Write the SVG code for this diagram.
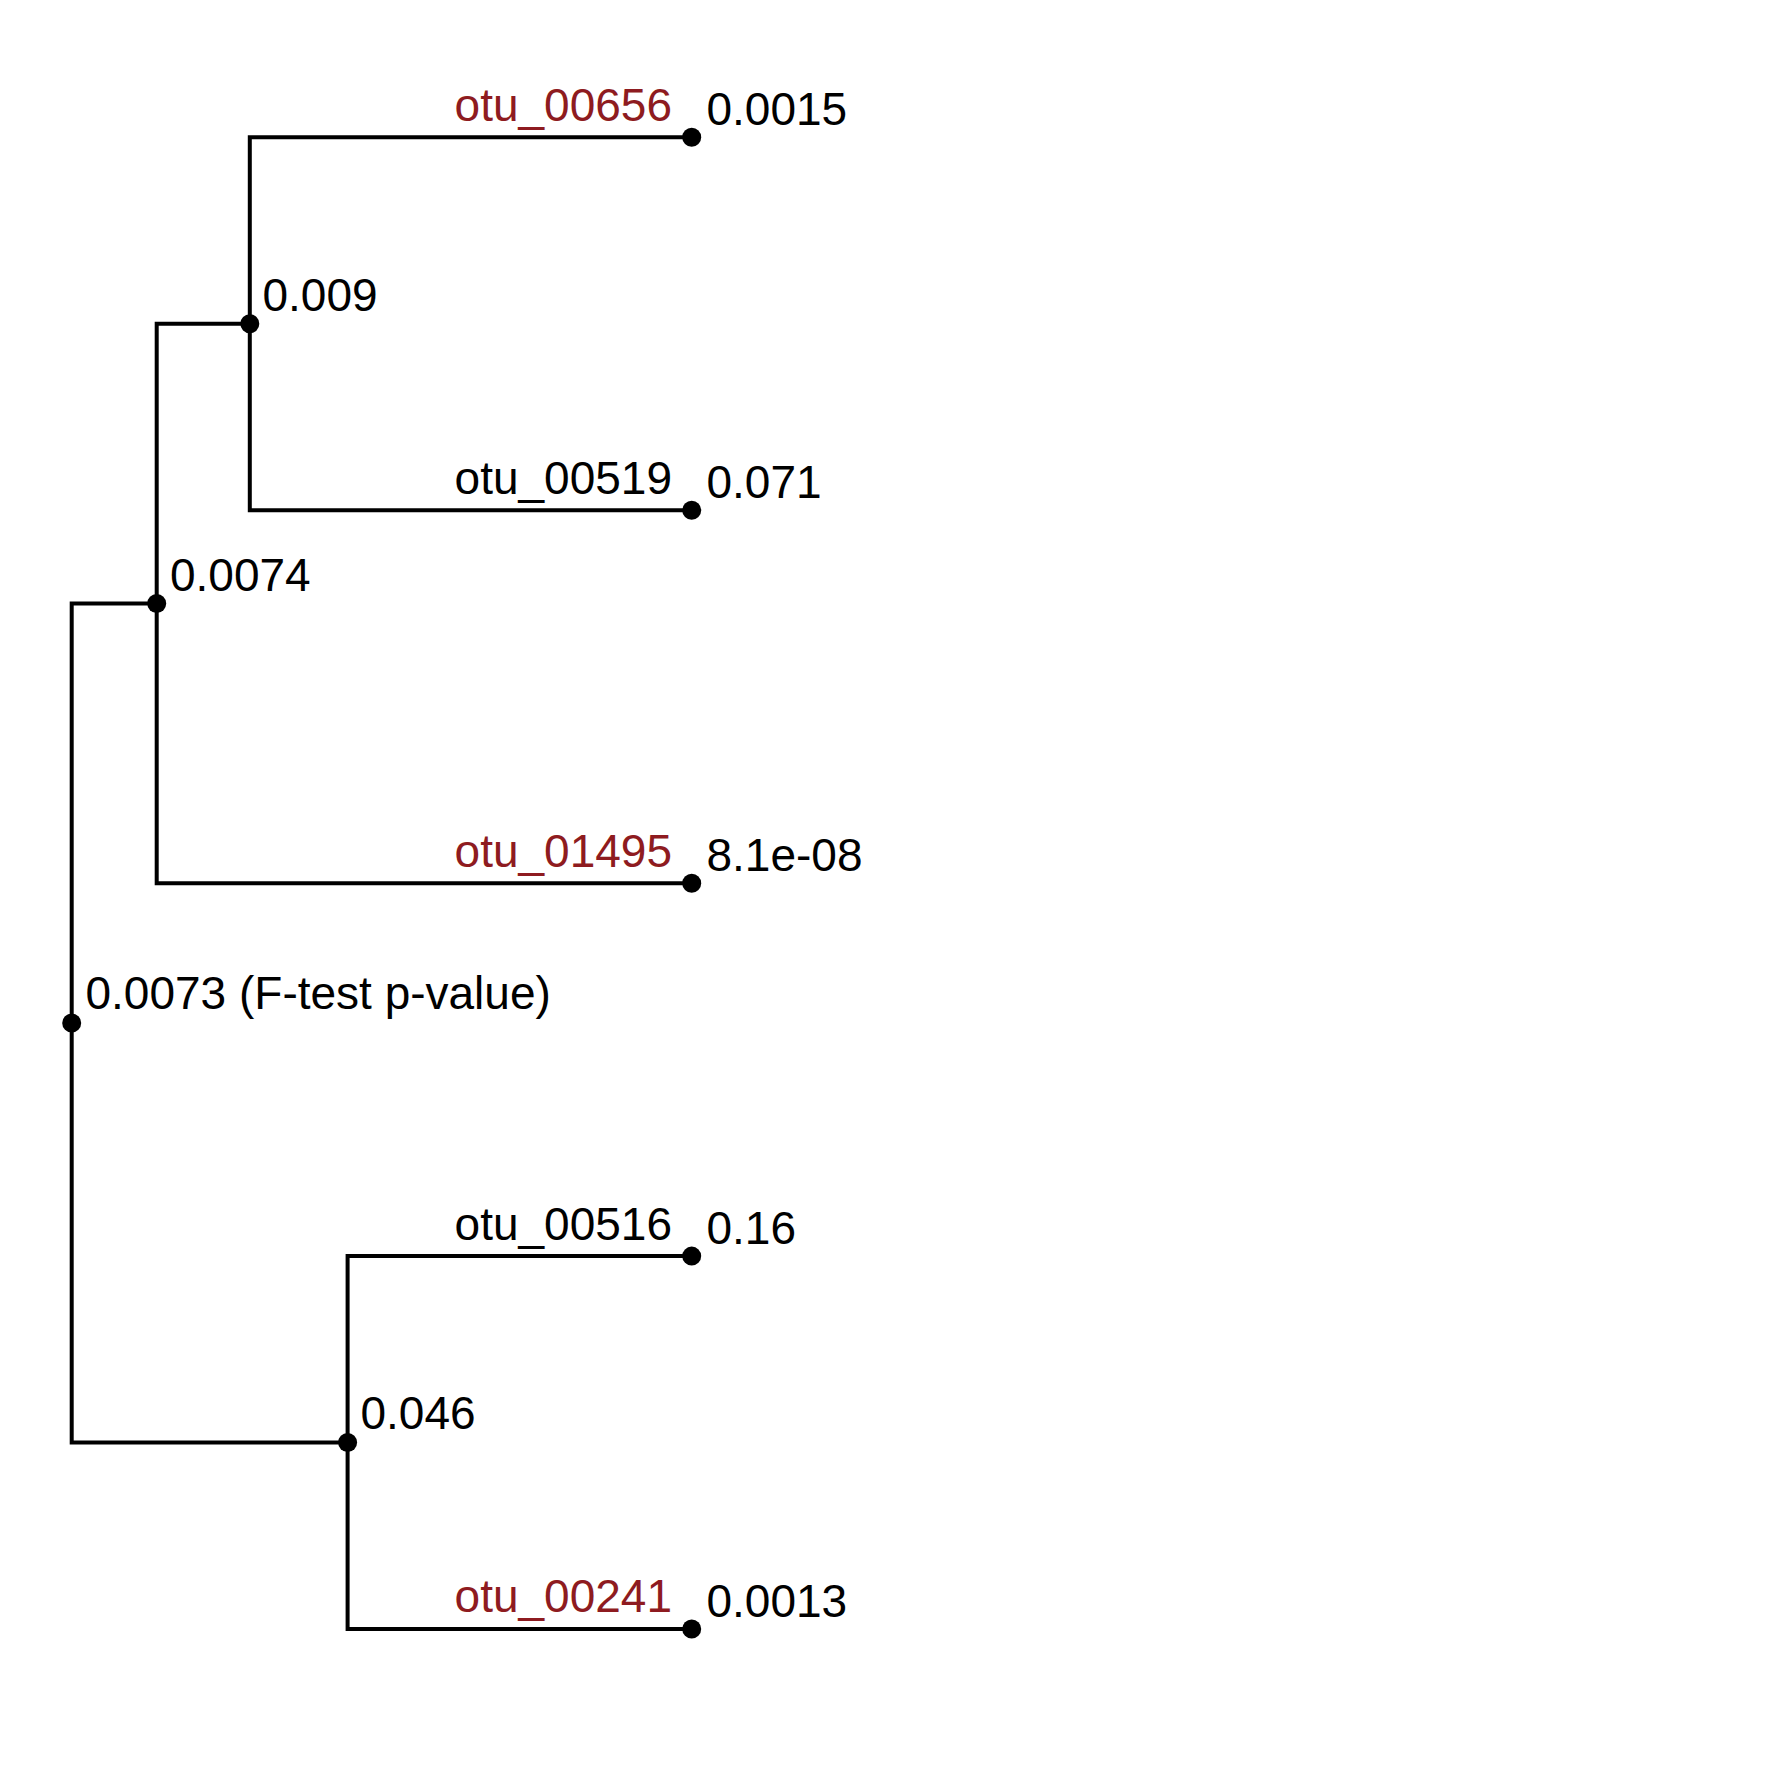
<svg xmlns="http://www.w3.org/2000/svg" width="1771" height="1771" viewBox="0 0 1771 1771">
<style>
.e{fill:none;stroke:#000;stroke-width:4;stroke-linecap:square}
.d{fill:#000}
text{font-family:"Liberation Sans",Arial,Helvetica,sans-serif;font-size:46px;fill:#000}
.r{fill:#8E1B20;text-anchor:end}
.k{text-anchor:end}
</style>
<rect width="1771" height="1771" fill="#fff"/>
<g id="connectors">
<path class="e" d="M71.7,603.5V1442.5M71.7,603.5H156.7M71.7,1442.5H347.6"/>
<path class="e" d="M156.7,323.8V883.2M156.7,323.8H249.8M156.7,883.2H691.7"/>
<path class="e" d="M249.8,137.3V510.2M249.8,137.3H691.7M249.8,510.2H691.7"/>
<path class="e" d="M347.6,1256.1V1629M347.6,1256.1H691.7M347.6,1629H691.7"/>
</g>
<g id="root"><circle class="d" cx="71.7" cy="1023" r="9.5"/><text x="85.5" y="1008.5">0.0073 (F-test p-value)</text></g>
<g id="n0074"><circle class="d" cx="156.7" cy="603.5" r="9.5"/><text x="170" y="590.5">0.0074</text></g>
<g id="n009"><circle class="d" cx="249.8" cy="323.8" r="9.5"/><text x="262.5" y="311">0.009</text></g>
<g id="n046"><circle class="d" cx="347.6" cy="1442.5" r="9.5"/><text x="360.5" y="1429">0.046</text></g>
<g id="otu_00656"><circle class="d" cx="691.7" cy="137.3" r="9.5"/><text class="r" x="672" y="121">otu_00656</text><text x="706.5" y="125">0.0015</text></g>
<g id="otu_00519"><circle class="d" cx="691.7" cy="510.2" r="9.5"/><text class="k" x="672" y="494">otu_00519</text><text x="706.5" y="498">0.071</text></g>
<g id="otu_01495"><circle class="d" cx="691.7" cy="883.2" r="9.5"/><text class="r" x="672" y="867">otu_01495</text><text x="706.5" y="871">8.1e-08</text></g>
<g id="otu_00516"><circle class="d" cx="691.7" cy="1256.1" r="9.5"/><text class="k" x="672" y="1240">otu_00516</text><text x="706.5" y="1244">0.16</text></g>
<g id="otu_00241"><circle class="d" cx="691.7" cy="1629" r="9.5"/><text class="r" x="672" y="1612">otu_00241</text><text x="706.5" y="1616.5">0.0013</text></g>
</svg>
